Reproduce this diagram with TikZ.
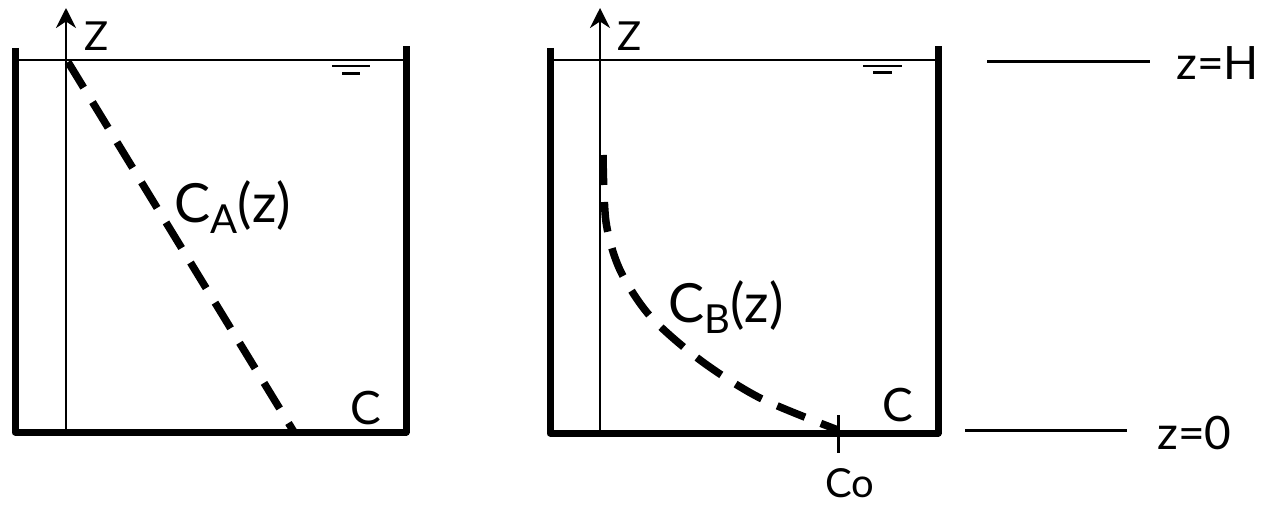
\documentclass[tikz,border=0pt]{standalone}
\usepackage{fontspec}
\setmainfont{Lato}
\usetikzlibrary{arrows.meta}

\begin{document}
\begin{tikzpicture}[x=1pt, y=-1pt,
  wall/.style={line width=7pt, line join=round},
  axis/.style={line width=2.5pt, -{Stealth[length=20pt, width=20pt]}},
  water/.style={line width=2pt},
  level/.style={line width=3pt},
  profile/.style={line width=7.5pt, dash pattern=on 30pt off 17pt},
  lbl/.style={inner sep=0pt, font=\fontsize{46}{52}\selectfont},
  big/.style={inner sep=0pt, font=\fontsize{54}{60}\selectfont},
  axlbl/.style={inner sep=0pt, font=\fontsize{40}{46}\selectfont}]
\useasboundingbox (0,0) rectangle (1275,508);
% tank A
\draw[wall] (15,48) -- (15,432) -- (406,432) -- (406,46);
\draw[water] (15,60) -- (406,60);
\draw[water] (332,66) -- (370,66);
\draw[water, line width=3pt] (342,74) -- (360,74);
\coordinate (A0) at (66,432);
\coordinate (A1) at (66,8);
\draw[axis] (A0) -- (A1);
\node[axlbl, anchor=west] (ZA) at (84,36) {Z};
\coordinate (PA0) at (68,62);
\coordinate (PA1) at (294,432);
\draw[profile] (PA0) -- (PA1);
\node[big] (CA) at (233,207) {C\raisebox{-.4ex}{\fontsize{40}{40}\selectfont A}(z)};
\node[lbl] (CendA) at (366,408) {C};
% tank B
\draw[wall] (550,48) -- (550,433) -- (938,433) -- (938,46);
\draw[water] (550,60) -- (938,60);
\draw[water] (863,66) -- (902,66);
\draw[water, line width=3pt] (873,73) -- (892,73);
\coordinate (B0) at (600,433);
\coordinate (B1) at (600,8);
\draw[axis] (B0) -- (B1);
\node[axlbl, anchor=west] (ZB) at (617,36) {Z};
\draw[profile] plot[smooth] coordinates {(603,155) (606,222) (620,270) (650,316) (700,360) (760,398) (838,430)};
\coordinate (T0) at (838,415);
\coordinate (T1) at (838,453);
\draw[level] (T0) -- (T1);
\node[lbl, font=\fontsize{40}{46}\selectfont] (Co) at (850,483) {Co};
\node[lbl] (CendB) at (898,405) {C};
\node[big] (CB) at (726,307) {C\raisebox{-.4ex}{\fontsize{40}{40}\selectfont B}(z)};
% levels
\coordinate (H0) at (987,62);
\coordinate (H1) at (1150,62);
\draw[level] (H0) -- (H1);
\node[lbl, anchor=west] (zH) at (1176,63) {z=H};
\coordinate (L0) at (965,430);
\coordinate (L1) at (1127,430);
\draw[level] (L0) -- (L1);
\node[lbl, anchor=west] (z0) at (1157,433) {z=0};
\end{tikzpicture}
\end{document}
